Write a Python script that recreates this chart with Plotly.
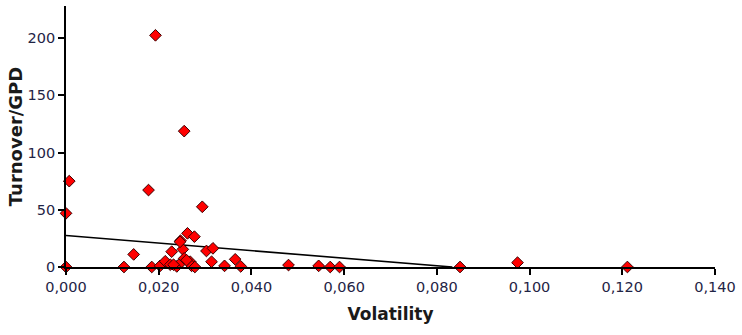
import plotly.graph_objects as go

# Data
volatility = [
    0.0193, 0.0255, 0.0007, 0.0000, 0.0178, 0.0294, 0.0262, 0.0277, 0.0247,
    0.0228, 0.0252, 0.0146, 0.0303, 0.0317, 0.0314, 0.0000, 0.0125, 0.0185,
    0.0203, 0.0214, 0.0225, 0.0239, 0.0250, 0.0255, 0.0268, 0.0271, 0.0278,
    0.0342, 0.0365, 0.0377, 0.0480, 0.0545, 0.0570, 0.0590, 0.0850, 0.0974,
    0.1211, 0.0232, 0.0246, 0.0260,
]
turnover_gpd = [
    202.4, 118.7, 75.0, 46.9, 67.2, 52.6, 29.4, 26.5, 23.0,
    13.4, 15.4, 11.0, 14.0, 16.3, 4.6, 0.0, 0.0, 0.0,
    1.0, 5.0, 2.0, 0.5, 4.6, 7.5, 4.6, 1.0, 0.0,
    1.0, 6.7, 0.5, 1.7, 1.0, 0.0, 0.0, 0.0, 3.8,
    0.0, 2.0, 22.0, 6.0,
]

# Linear trend line (as drawn in the reference)
trend_intercept = 27.5
trend_slope = -330.0

x_ticks = [0.0, 0.02, 0.04, 0.06, 0.08, 0.10, 0.12, 0.14]
y_ticks = [0, 50, 100, 150, 200]

x_zero = -trend_intercept / trend_slope
trend_x = [0.0, x_zero]
trend_y = [trend_intercept + trend_slope * v for v in trend_x]

fig = go.Figure()
fig.add_trace(go.Scatter(
    x=trend_x, y=trend_y, mode="lines",
    line=dict(color="black", width=1.6),
    hoverinfo="skip", showlegend=False,
))
fig.add_trace(go.Scatter(
    x=volatility, y=turnover_gpd, mode="markers",
    marker=dict(symbol="diamond", size=9, color="#FF0000",
                line=dict(color="#3a0000", width=1)),
    cliponaxis=False, showlegend=False,
))

tick_font = dict(family="DejaVu Sans, sans-serif", size=14.5, color="#1f2445")
x_title_font = dict(family="DejaVu Sans, sans-serif", size=17, color="#1a1a1a")
y_title_font = dict(family="DejaVu Sans, sans-serif", size=18, color="#1a1a1a")

fig.update_layout(
    width=742, height=335,
    margin=dict(l=66, r=24, t=6, b=68),
    paper_bgcolor="white", plot_bgcolor="white",
    separators=",.",
    xaxis=dict(
        range=[0, 0.14], tickvals=x_ticks, tickformat=".3f",
        showline=True, linecolor="black", linewidth=1.6,
        ticks="outside", ticklen=6, tickwidth=1.6, tickcolor="black",
        showgrid=False, zeroline=False, tickfont=tick_font,
        title=dict(text="<b>Volatility</b>", font=x_title_font, standoff=14),
    ),
    yaxis=dict(
        range=[0, 228], tickvals=y_ticks,
        showline=True, linecolor="black", linewidth=1.6,
        ticks="outside", ticklen=6, tickwidth=1.6, tickcolor="black",
        showgrid=False, zeroline=False, tickfont=tick_font,
        title=dict(text="<b>Turnover/GPD</b>", font=y_title_font, standoff=0),
    ),
)

fig.write_html("out.html")
